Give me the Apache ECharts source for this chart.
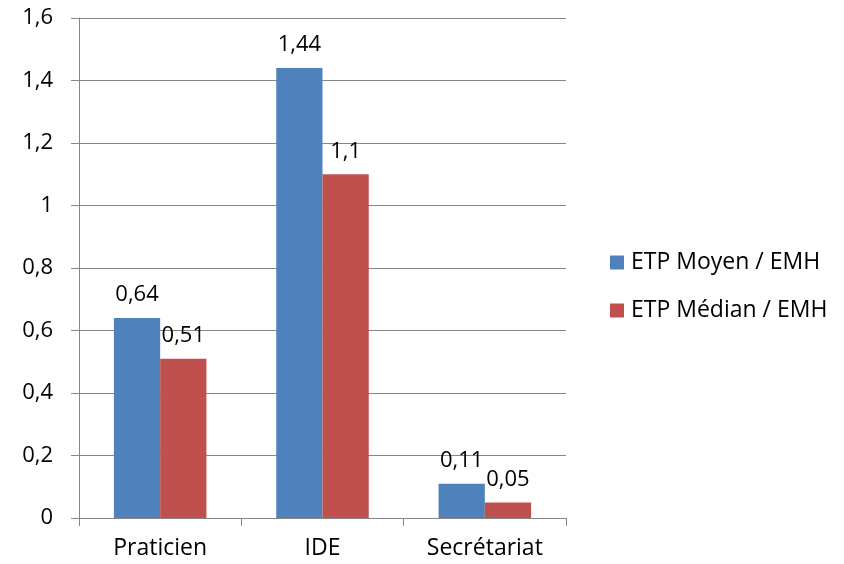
<!DOCTYPE html>
<html>
<head>
<meta charset="utf-8">
<script src="https://cdn.jsdelivr.net/npm/echarts@6/dist/echarts.min.js"></script>
<style>
  html, body { margin: 0; padding: 0; background: #fff; }
  #chart { width: 844px; height: 564px; }
</style>
</head>
<body>
<div id="chart"></div>
<script>
const categories = ['Praticien', 'IDE', 'Secrétariat']
const moyenValues = [0.64, 1.44, 0.11]
const medianValues = [0.51, 1.1, 0.05]
const seriesNames = ['ETP Moyen / EMH', 'ETP Médian / EMH']

const fontFamily = '"Open Sans", "Noto Sans", sans-serif'
const gray = '#868686'

// french decimal comma
function comma(v) {
  return String(Math.round(v * 100) / 100).replace('.', ',')
}

const chart = echarts.init(document.getElementById('chart'))

const labelStyle = {
  show: true,
  position: 'top',
  distance: 12,
  color: '#000',
  fontSize: 22,
  fontFamily: fontFamily,
  formatter: p => comma(p.value)
}

chart.setOption({
  animation: false,
  textStyle: { fontFamily: fontFamily },
  grid: { left: 79, right: 278, top: 18, bottom: 46 },
  legend: {
    orient: 'vertical',
    left: 605,
    top: 246,
    itemWidth: 14,
    itemHeight: 14,
    itemGap: 25,
    icon: 'rect',
    textStyle: { fontSize: 23, color: '#000', fontFamily: fontFamily, padding: [0, 0, 0, 2] },
    data: seriesNames
  },
  xAxis: {
    type: 'category',
    data: categories,
    axisLine: { lineStyle: { color: gray, width: 1 } },
    axisTick: { show: true, length: 8, lineStyle: { color: gray } },
    axisLabel: { color: '#000', fontSize: 23, margin: 19, fontFamily: fontFamily }
  },
  yAxis: {
    type: 'value',
    min: 0,
    max: 1.6,
    interval: 0.2,
    axisLine: { show: true, lineStyle: { color: gray, width: 1 } },
    axisTick: { show: true, length: 8, lineStyle: { color: gray } },
    splitLine: { lineStyle: { color: gray, width: 1 } },
    axisLabel: { color: '#000', fontSize: 22, margin: 26, fontFamily: fontFamily, formatter: v => comma(v) }
  },
  series: [{
    name: seriesNames[0],
    type: 'bar',
    data: moyenValues,
    barGap: '0%',
    barCategoryGap: '43%',
    itemStyle: { color: '#4F81BD' },
    label: labelStyle
  }, {
    name: seriesNames[1],
    type: 'bar',
    data: medianValues,
    itemStyle: { color: '#C0504D' },
    label: labelStyle
  }]
})
</script>
</body>
</html>
